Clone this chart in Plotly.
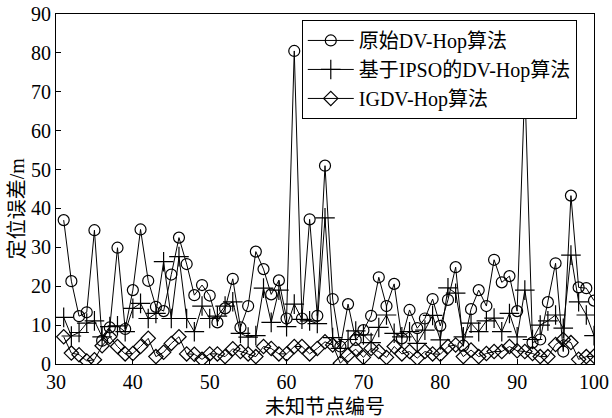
import plotly.graph_objects as go

nodes = list(range(31, 101))

dvhop = [37.0, 21.3, 12.3, 13.3, 34.4, 6.0, 9.4, 29.9, 9.0, 19.0,
         34.6, 21.4, 14.7, 13.6, 23.0, 32.5, 25.7, 17.7, 20.3, 17.6,
         10.7, 14.3, 21.9, 9.4, 14.9, 28.9, 24.4, 17.9, 21.5, 11.7,
         80.5, 11.7, 37.2, 12.4, 51.0, 16.7, 4.5, 15.4, 6.2, 8.7,
         12.4, 22.3, 14.9, 20.6, 6.6, 13.9, 9.2, 11.7, 16.7, 9.8,
         16.5, 24.9, 4.7, 14.1, 19.0, 14.9, 26.8, 21.0, 22.6, 13.6,
         72.0, 5.5, 6.3, 15.9, 25.9, 3.2, 43.3, 19.7, 19.5, 16.3]

ipso = [12.0, 7.2, 8.1, 10.5, 11.1, 7.0, 9.6, 9.8, 8.3, 14.3,
        15.6, 11.7, 13.0, 26.3, 11.7, 27.6, 11.7, 8.3, 14.9, 11.7,
        12.3, 14.9, 16.0, 7.9, 6.9, 7.3, 19.5, 10.7, 19.0, 9.6,
        15.4, 11.5, 11.1, 10.4, 37.6, 6.8, 4.0, 6.3, 8.5, 7.5,
        5.5, 9.4, 12.6, 7.9, 7.0, 8.3, 5.3, 8.7, 12.5, 6.2,
        19.6, 18.2, 7.0, 10.5, 8.3, 11.1, 11.8, 8.3, 13.0, 7.0,
        19.0, 6.3, 10.0, 11.1, 12.6, 9.2, 28.0, 16.0, 12.6, 7.3]

igdv = [7.0, 2.8, 2.4, 0.8, 1.1, 4.7, 7.0, 4.5, 2.6, 2.7,
        4.5, 6.6, 1.9, 3.0, 5.3, 7.0, 2.6, 2.5, 1.2, 2.6,
        2.6, 1.9, 3.9, 3.2, 2.6, 1.9, 4.5, 4.0, 2.6, 2.6,
        4.5, 4.5, 2.6, 4.0, 5.7, 4.9, 0.2, 2.3, 3.8, 1.7,
        4.0, 3.2, 1.7, 4.5, 2.6, 3.2, 1.5, 3.2, 2.6, 2.5,
        4.5, 4.9, 1.9, 3.6, 1.9, 2.7, 3.2, 3.2, 4.5, 3.4,
        3.2, 2.7, 1.9, 1.9, 5.0, 6.3, 5.5, 1.2, 1.9, 2.0]

names = ["原始DV-Hop算法", "基于IPSO的DV-Hop算法", "IGDV-Hop算法"]
x_title = "未知节点编号"
y_title = "定位误差/m"
x_ticks = [30, 40, 50, 60, 70, 80, 90, 100]
y_ticks = [0, 10, 20, 30, 40, 50, 60, 70, 80, 90]

FONT = "'Liberation Serif', 'Times New Roman', 'Noto Sans CJK SC', serif"

fig = go.Figure()
fig.add_trace(go.Scatter(
    x=nodes, y=dvhop, name=names[0], mode="lines+markers",
    line=dict(color="black", width=1),
    marker=dict(symbol="circle-open", size=11, color="black", line=dict(width=1.2)),
))
fig.add_trace(go.Scatter(
    x=nodes, y=ipso, name=names[1], mode="lines+markers",
    line=dict(color="black", width=1),
    marker=dict(symbol="cross-thin-open", size=14, color="black", line=dict(width=1.2)),
))
fig.add_trace(go.Scatter(
    x=nodes, y=igdv, name=names[2], mode="lines+markers",
    line=dict(color="black", width=1),
    marker=dict(symbol="diamond-open", size=11, color="black", line=dict(width=1.2)),
))

axis_common = dict(
    showgrid=False, zeroline=False, showline=True, mirror=True,
    linecolor="black", linewidth=1, ticks="inside", ticklen=5,
    tickcolor="black", tickfont=dict(family=FONT, size=20, color="black"),
    automargin=False,
)

fig.update_layout(
    template="none",
    width=612, height=418,
    margin=dict(l=56, r=18, t=14, b=54),
    paper_bgcolor="white", plot_bgcolor="white",
    font=dict(family=FONT, color="black"),
    showlegend=True,
    legend=dict(
        x=0.968, y=0.983, xanchor="right", yanchor="top",
        bgcolor="white", bordercolor="black", borderwidth=1,
        font=dict(family=FONT, size=20, color="black"),
        tracegroupgap=0, itemwidth=46,
    ),
    xaxis=dict(
        range=[30, 100], tickvals=x_ticks, ticktext=[str(v) for v in x_ticks],
        **axis_common,
    ),
    yaxis=dict(
        range=[0, 90], tickvals=y_ticks, ticktext=[str(v) for v in y_ticks],
        **axis_common,
    ),
    annotations=[
        dict(text=x_title, xref="paper", yref="paper", x=0.5, y=-0.122,
             xanchor="center", yanchor="middle", showarrow=False,
             font=dict(family=FONT, size=20, color="black")),
        dict(text=y_title, xref="paper", yref="paper", x=0, y=0.445,
             xshift=-39, xanchor="center", yanchor="middle", showarrow=False,
             textangle=-90, font=dict(family=FONT, size=20, color="black")),
    ],
)

fig.write_html("out.html")
